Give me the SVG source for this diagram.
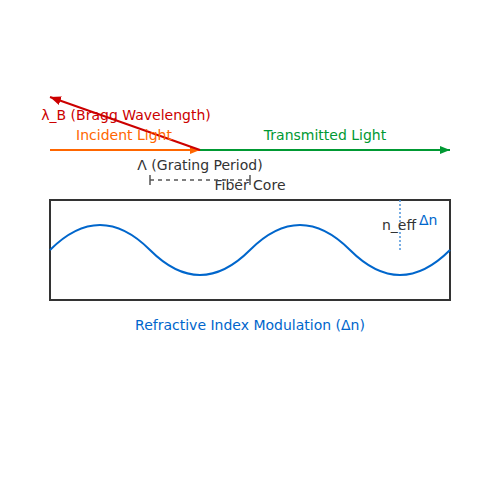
<svg xmlns="http://www.w3.org/2000/svg" width="500" height="500" viewBox="0 0 500 500">
<style>
text{font-family:"DejaVu Sans","Liberation Sans",sans-serif;font-size:14px}
.mid{text-anchor:middle}
</style>
<defs>
<marker id="aO" markerWidth="10" markerHeight="8" refX="10" refY="4" orient="auto" markerUnits="userSpaceOnUse"><path d="M0,0L10,4L0,8Z" fill="#ff6600"/></marker>
<marker id="aG" markerWidth="10" markerHeight="8" refX="10" refY="4" orient="auto" markerUnits="userSpaceOnUse"><path d="M0,0L10,4L0,8Z" fill="#009933"/></marker>
<marker id="aR" markerWidth="11" markerHeight="9" refX="11" refY="4.5" orient="auto" markerUnits="userSpaceOnUse"><path d="M0,0L11,4.5L0,9Z" fill="#cc0000"/></marker>
</defs>
<g id="fiber-core">
<rect x="50" y="200" width="400" height="100" fill="none" stroke="#333" stroke-width="2"/>
<text class="mid" x="250" y="190" fill="#333">Fiber Core</text>
</g>
<g id="modulation">
<path d="M50 250 Q100 200 150 250 T250 250 T350 250 T450 250" fill="none" stroke="#0066cc" stroke-width="2"/>
<text class="mid" x="250" y="330" fill="#0066cc">Refractive Index Modulation (Δn)</text>
</g>
<g id="neff">
<line x1="400" y1="200" x2="400" y2="250" stroke="#4d94db" stroke-width="1.5" stroke-dasharray="2,2"/>
<text class="mid" x="399" y="230" fill="#333">n_eff</text>
<text x="419" y="225" fill="#0066cc">Δn</text>
</g>
<g id="period">
<path d="M150 180H250" fill="none" stroke="#555" stroke-width="1.5" stroke-dasharray="4,4"/>
<path d="M150 175V185M250 175V185" fill="none" stroke="#555" stroke-width="1.5"/>
<text class="mid" x="200" y="170" fill="#333">Λ (Grating Period)</text>
</g>
<g id="connectors">
<line x1="50" y1="150" x2="200" y2="150" stroke="#ff6600" stroke-width="2" marker-end="url(#aO)"/>
<line x1="200" y1="150" x2="450" y2="150" stroke="#009933" stroke-width="2" marker-end="url(#aG)"/>
<line x1="200" y1="150" x2="50" y2="97" stroke="#cc0000" stroke-width="2" marker-end="url(#aR)"/>
</g>
<g id="labels">
<text class="mid" x="124" y="140" fill="#ff6600">Incident Light</text>
<text class="mid" x="325" y="140" fill="#009933">Transmitted Light</text>
<text class="mid" x="126" y="120" fill="#cc0000">λ_B (Bragg Wavelength)</text>
</g>
</svg>
